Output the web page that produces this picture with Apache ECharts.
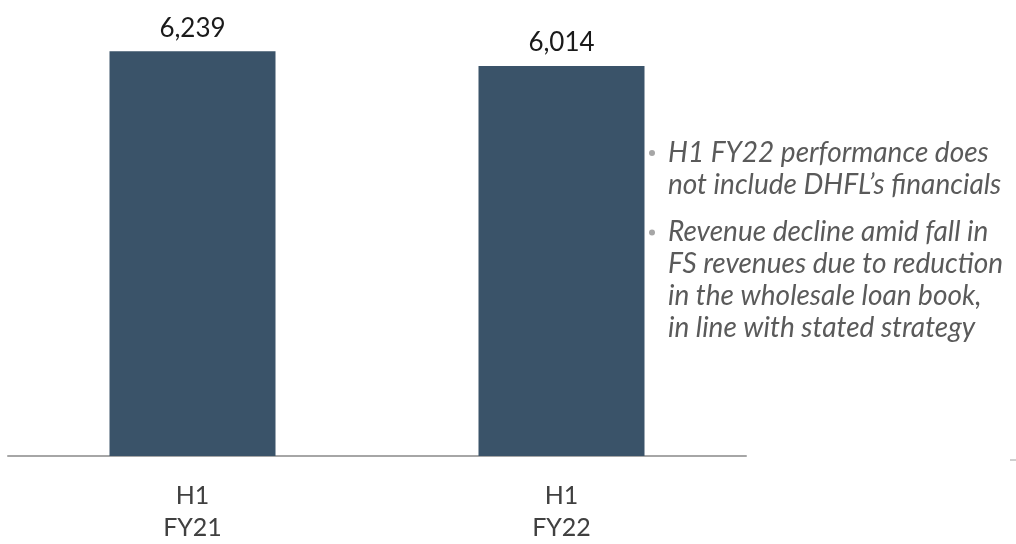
<!DOCTYPE html>
<html>
<head>
<meta charset="utf-8">
<script src="https://cdn.jsdelivr.net/npm/echarts@6/dist/echarts.min.js"></script>
<style>
  html, body { margin: 0; padding: 0; background: #ffffff; }
  #chart { width: 1016px; height: 544px; }
</style>
</head>
<body>
<div id="chart"></div>
<script>
// Half-year revenue, in crore
const categories = ['H1\nFY21', 'H1\nFY22'];
const revenue = [6239, 6014];
const notes = [
  ['H1 FY22 performance does', 'not include DHFL\u2019s financials'],
  ['Revenue decline amid fall in', 'FS revenues due to reduction', 'in the wholesale loan book,', 'in line with stated strategy']
];

const FONT = 'Lato, "Open Sans", sans-serif';
const chart = echarts.init(document.getElementById('chart'));

// Bulleted commentary on the right
const graphics = [];
let y = 153;
notes.forEach(function (block) {
  graphics.push({
    type: 'circle',
    shape: { cx: 652, cy: y, r: 3 },
    style: { fill: '#a6a6a6' }
  });
  block.forEach(function (line) {
    graphics.push({
      type: 'text',
      style: {
        x: 668,
        y: y,
        text: line,
        verticalAlign: 'middle',
        font: 'italic 28px ' + FONT,
        fill: '#5a5a5a'
      }
    });
    y += 31.7;
  });
  y += 16;
});
graphics.push({
  type: 'line',
  shape: { x1: 1010, y1: 460, x2: 1016, y2: 460 },
  style: { stroke: '#a0a0a0', lineWidth: 1 }
});

chart.setOption({
  animation: false,
  grid: { left: 8, right: 270, top: 2, bottom: 84 },
  xAxis: {
    type: 'category',
    data: categories,
    axisLine: { show: true, lineStyle: { color: '#a6a6a6', width: 2 } },
    axisTick: { show: false },
    axisLabel: {
      margin: 24,
      fontFamily: FONT,
      fontSize: 25,
      color: '#404040',
      lineHeight: 32
    }
  },
  yAxis: {
    type: 'value',
    min: 0,
    max: 7000,
    show: false,
    splitLine: { show: false }
  },
  series: [{
    type: 'bar',
    data: revenue,
    barWidth: 166,
    itemStyle: { color: '#3a5369' },
    label: {
      show: true,
      position: 'top',
      distance: 10,
      fontFamily: FONT,
      fontSize: 26,
      color: '#1a1a1a',
      formatter: function (p) { return p.value.toLocaleString('en-US'); }
    }
  }],
  graphic: graphics
});
</script>
</body>
</html>
